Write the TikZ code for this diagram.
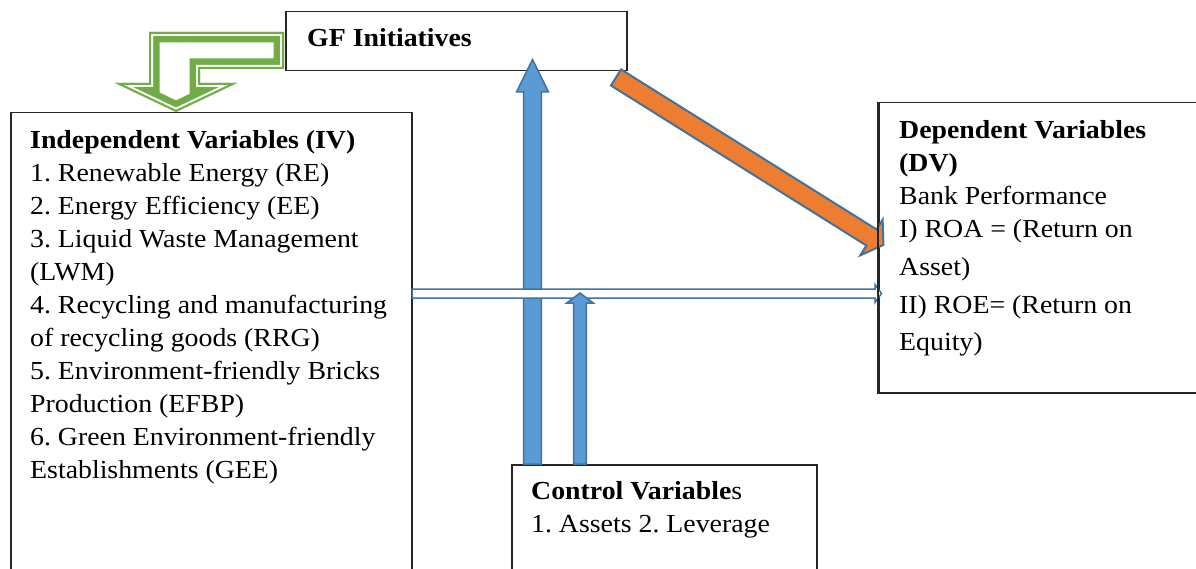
\documentclass[tikz,border=0pt]{standalone}
\usepackage{fontspec}
\setmainfont{Liberation Serif}[FakeStretch=1.07]
\usetikzlibrary{calc}
\definecolor{arrowblue}{HTML}{5B9BD5}
\definecolor{edgeblue}{HTML}{41719C}
\definecolor{arroworange}{HTML}{ED7D31}
\definecolor{arrowgreen}{HTML}{70AD47}
\frenchspacing

\begin{document}
\begin{tikzpicture}[x=1pt,y=-1pt,
  box/.style={draw=black!85, line width=1.5pt, fill=white, inner sep=0pt, anchor=north west},
  % multi-line texts are placed by the baseline of their last line
  txt/.style={inner sep=0pt, anchor=base west, align=left, font=\fontsize{26}{33}\selectfont},
  blockarrow/.style={draw=edgeblue, line width=1.5pt, line join=miter},
]
\useasboundingbox (0,0) rectangle (1196,569);
\clip (0,0) rectangle (1196,569);

% ---- boxes ----
\node[box, minimum width=341pt, minimum height=59pt] (gf) at (285,11) {};
\node[box, minimum width=401pt, minimum height=480pt] (iv) at (10,112) {};
\node[box, minimum width=305pt, minimum height=130pt] (ctrl) at (511,464) {};
\node[box, minimum width=400pt, minimum height=290pt] (dv) at (878,102) {};

% ---- texts ----
\node[txt] (gftext) at (307,47) {\bfseries GF Initiatives};
\node[txt] (ivtext) at (30,478) {\textbf{Independent Variables (IV)}\\
  1. Renewable Energy (RE)\\
  2. Energy Efficiency (EE)\\
  3. Liquid Waste Management\\
  (LWM)\\
  4. Recycling and manufacturing\\
  of recycling goods (RRG)\\
  5. Environment-friendly Bricks\\
  Production (EFBP)\\
  6. Green Environment-friendly\\
  Establishments (GEE)};
\node[txt] (dvtext) at (899,350) {\textbf{Dependent Variables}\\
  \textbf{(DV)}\\
  Bank Performance\\
  I) ROA = (Return on\\[5pt]
  Asset)\\[5pt]
  II) ROE= (Return on\\[4pt]
  Equity)};
\node[txt] (ctrltext) at (531,532) {\textbf{Control Variable}s\\
  1. Assets 2. Leverage};

% ---- green bent arrow from GF Initiatives down to the IV box ----
\coordinate (g1) at (284,32);
\coordinate (g2) at (149,32);
\coordinate (g3) at (149,83);
\coordinate (g4) at (115,83);
\coordinate (g5) at (176,112);
\coordinate (g6) at (237,83);
\coordinate (g7) at (200,83);
\coordinate (g8) at (200,69);
\coordinate (g9) at (284,69);
\begin{scope}
  \clip (g1) -- (g2) -- (g3) -- (g4) -- (g5) -- (g6) -- (g7) -- (g8) -- (g9) -- cycle;
  \fill[white] (g1) -- (g2) -- (g3) -- (g4) -- (g5) -- (g6) -- (g7) -- (g8) -- (g9) -- cycle;
  \draw[arrowgreen, line width=21pt, line join=miter]
    (g1) -- (g2) -- (g3) -- (g4) -- (g5) -- (g6) -- (g7) -- (g8) -- (g9) -- cycle;
  \draw[white, line width=8pt, line join=miter]
    (g1) -- (g2) -- (g3) -- (g4) -- (g5) -- (g6) -- (g7) -- (g8) -- (g9) -- cycle;
  \draw[arrowgreen, line width=4pt, line join=miter]
    (g1) -- (g2) -- (g3) -- (g4) -- (g5) -- (g6) -- (g7) -- (g8) -- (g9) -- cycle;
\end{scope}

% ---- large blue arrow: control variables up to GF Initiatives ----
\draw[blockarrow, fill=arrowblue]
  (523.7,464) -- (523.7,92) -- (516.5,92) -- (532.5,59.5) -- (548.5,92)
  -- (541.3,92) -- (541.3,464) -- cycle;

% ---- hollow arrow: IV to DV ----
\draw[blockarrow, fill=white]
  (412,289) -- (875,289) -- (875,284.5) -- (881.5,293.5) -- (875,302.5)
  -- (875,298) -- (412,298) -- cycle;

% ---- small blue arrow: control variables up to the IV-DV link ----
\draw[blockarrow, fill=arrowblue]
  (573.7,464) -- (573.7,303) -- (566.7,303) -- (580,293) -- (593.3,303)
  -- (586.3,303) -- (586.3,464) -- cycle;

% ---- orange arrow: GF Initiatives to DV ----
\draw[draw=edgeblue, line width=2pt, line join=miter, fill=arroworange]
  (610.96,85.55) -- (621.04,69.45) -- (876.54,229.45) -- (882.64,219.70)
  -- (883.4,244.9) -- (860.36,255.30) -- (866.46,245.55) -- cycle;

% DV box edge stays above the arrow heads
\draw[black!85, line width=1.5pt] (dv.north west) -- (dv.south west);
\end{tikzpicture}
\end{document}
